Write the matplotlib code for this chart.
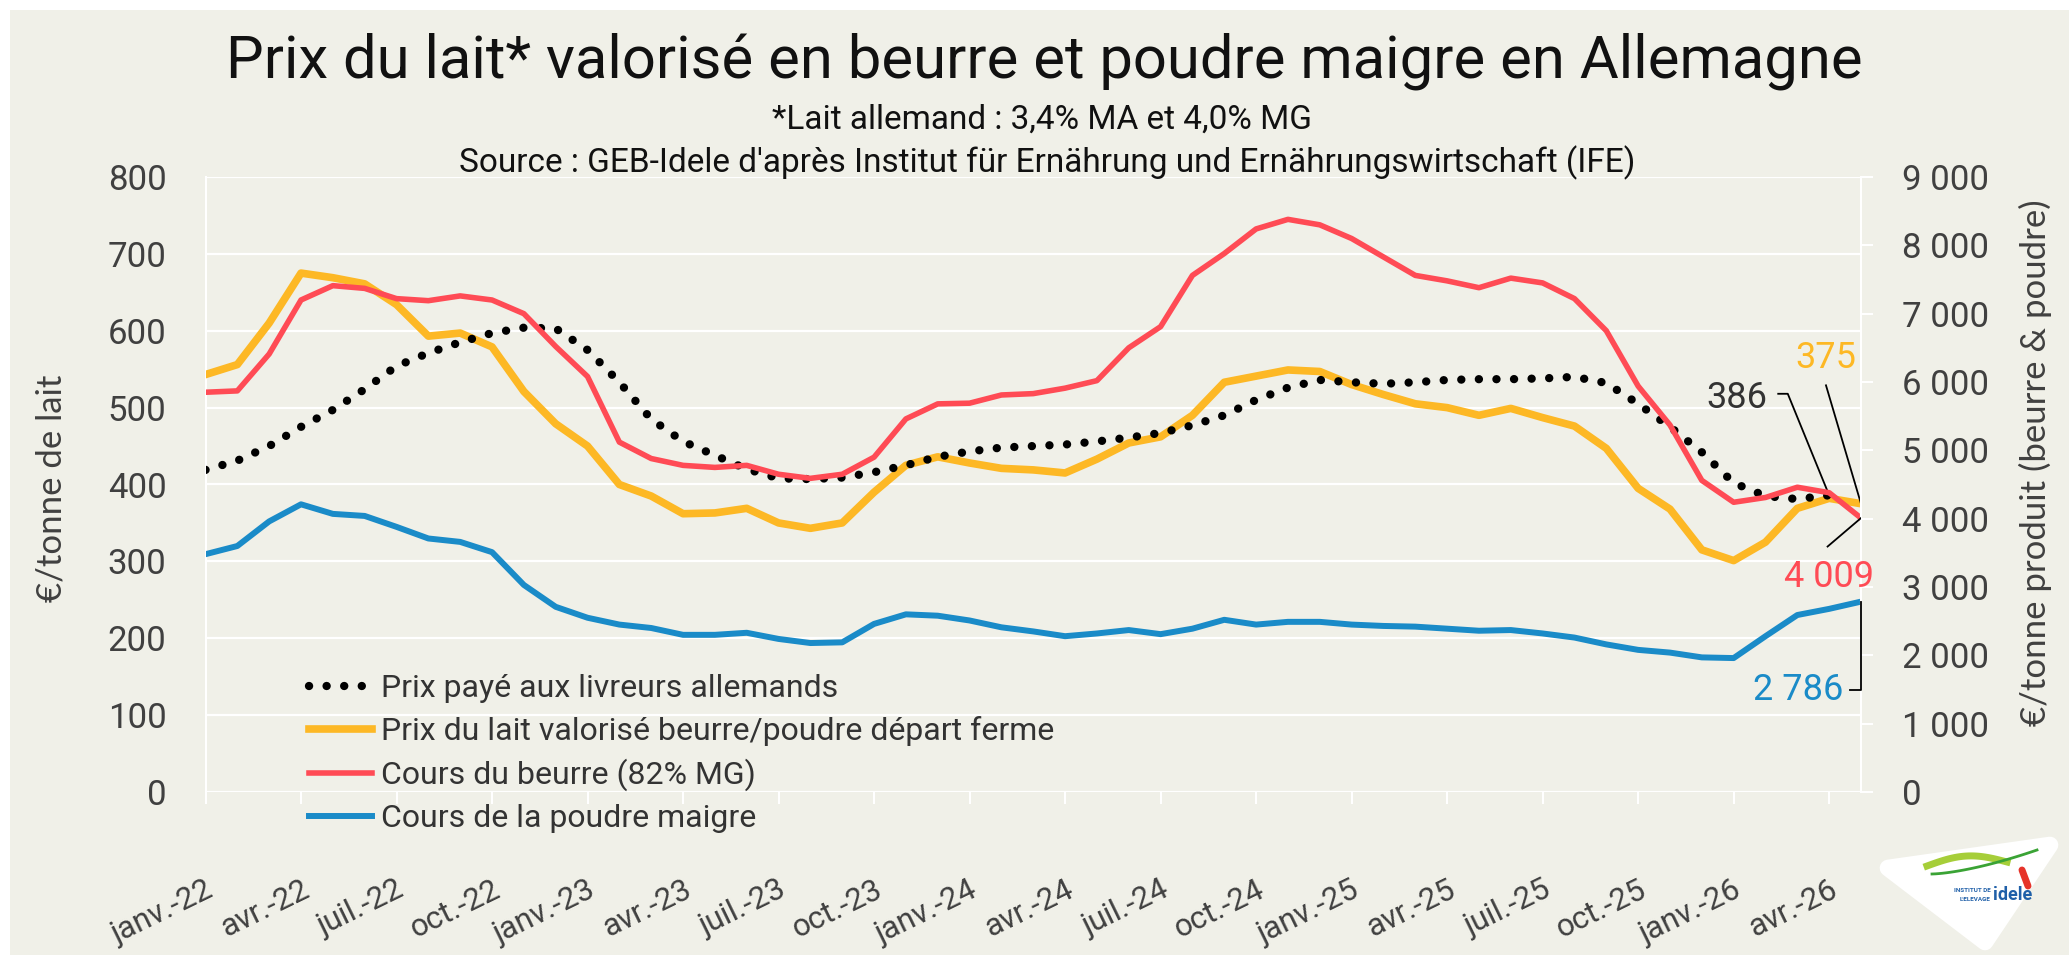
import numpy as np
import matplotlib
matplotlib.use("Agg")
import matplotlib.pyplot as plt
from matplotlib.patches import Rectangle, Polygon
from matplotlib.lines import Line2D

plt.rcParams['font.family'] = ['Roboto', 'DejaVu Sans']

# donnees mensuelles, janv.-22 -> mai-26 (prix payé : jusqu'a avr.-26)
prix_livreurs = [419, 431, 450, 475, 497, 524, 554, 571, 585, 597, 604, 603, 575,
                 533, 485, 456, 438, 420, 408, 407, 409, 416, 425, 436, 443, 448,
                 450, 452, 456, 461, 467, 477, 490, 510, 526, 536, 533, 531, 533,
                 536, 537, 537, 538, 540, 532, 505, 475, 442, 402, 385, 381, 386]
prix_valorise = [543, 556, 610, 675, 669, 661, 634, 593, 597, 579, 521, 479, 450,
                 400, 385, 362, 363, 369, 350, 343, 350, 390, 425, 436, 428, 421,
                 419, 415, 433, 454, 462, 490, 533, 541, 549, 547, 530, 517, 505,
                 500, 490, 499, 487, 476, 447, 395, 368, 315, 301, 325, 369, 382, 375]
cours_beurre = [5850, 5870, 6410, 7200, 7410, 7370, 7220, 7190, 7260, 7200, 7000, 6520, 6080,
                5120, 4880, 4780, 4750, 4780, 4650, 4590, 4650, 4900, 5460, 5680, 5690, 5810,
                5830, 5910, 6020, 6500, 6810, 7560, 7880, 8240, 8380, 8300, 8100, 7830, 7560,
                7480, 7380, 7520, 7450, 7220, 6750, 5940, 5370, 4560, 4240, 4310, 4460, 4380, 4009]
cours_poudre = [3480, 3600, 3960, 4210, 4070, 4040, 3880, 3710, 3660, 3510, 3030, 2710, 2550,
                2450, 2400, 2300, 2300, 2330, 2240, 2180, 2190, 2460, 2600, 2580, 2510, 2410,
                2350, 2280, 2320, 2370, 2310, 2390, 2520, 2450, 2490, 2490, 2450, 2430, 2420,
                2390, 2360, 2370, 2320, 2260, 2160, 2080, 2040, 1970, 1960, 2280, 2590, 2680, 2786]

tick_labels = ['janv.-22', 'avr.-22', 'juil.-22', 'oct.-22', 'janv.-23', 'avr.-23',
               'juil.-23', 'oct.-23', 'janv.-24', 'avr.-24', 'juil.-24', 'oct.-24',
               'janv.-25', 'avr.-25', 'juil.-25', 'oct.-25', 'janv.-26', 'avr.-26']

noms = ['Prix payé aux livreurs allemands',
        'Prix du lait valorisé beurre/poudre départ ferme',
        'Cours du beurre (82% MG)',
        'Cours de la poudre maigre']

BG = '#F0F0E8'
NOIR = '#000000'
JAUNE = '#FDB825'
ROUGE = '#FF4B55'
BLEU = '#1A8BC8'
GRIS = '#404040'

W, H = 2069, 955
fig = plt.figure(figsize=(W / 100, H / 100), dpi=100)
fig.patch.set_facecolor('white')
fig.add_artist(Rectangle((10 / W, 0), 1, 1 - 10 / H, transform=fig.transFigure,
                         facecolor=BG, edgecolor='none', zorder=-10))

def fx(px):
    return px / W

def fy(py):
    return 1 - py / H

def fr(v):
    return f"{v:,}".replace(",", " ")

ax = fig.add_axes([fx(205.5), fy(792), fx(1861) - fx(205.5), fy(177) - fy(792)])
ax2 = ax.twinx()
for a in (ax, ax2):
    a.set_facecolor('none')
    for s in a.spines.values():
        s.set_visible(False)
ax.spines['left'].set_visible(True)
ax.spines['left'].set_color('white')
ax.spines['left'].set_linewidth(1.5)
ax2.spines['right'].set_visible(True)
ax2.spines['right'].set_color('white')
ax2.spines['right'].set_linewidth(1.5)

mois = np.arange(len(prix_valorise))

l1, = ax.plot(mois[:len(prix_livreurs)], prix_livreurs, color=NOIR, lw=6,
              linestyle=(0, (0.01, 2.1)), dash_capstyle='round', zorder=4)
l2, = ax.plot(mois, prix_valorise, color=JAUNE, lw=5.5, solid_joinstyle='round', zorder=3)
l3, = ax2.plot(mois, cours_beurre, color=ROUGE, lw=4, solid_joinstyle='round')
l4, = ax2.plot(mois, cours_poudre, color=BLEU, lw=4.3, solid_joinstyle='round')

ax.set_xlim(0, len(mois) - 1)
ax.set_ylim(0, 800)
ax2.set_ylim(0, 9000)
ax.set_yticks(np.arange(0, 801, 100))
ax2.set_yticks(np.arange(0, 9001, 1000))
ax2.set_yticklabels([fr(v) for v in range(0, 9001, 1000)])
ax.set_xticks(np.arange(0, len(tick_labels) * 3, 3))
ax.set_xticklabels(tick_labels)
ax.grid(axis='y', color='white', lw=1.6)
ax.set_axisbelow(True)

ax.tick_params(axis='y', length=0, pad=28, labelsize=25, labelcolor=GRIS)
ax2.tick_params(axis='y', direction='out', length=8.6, width=1.5, color='white',
                pad=21, labelsize=25, labelcolor=GRIS)
ax.tick_params(axis='x', direction='out', length=8.6, width=1.5, color='white',
               pad=51, labelsize=22.5, labelcolor=GRIS)
plt.setp(ax.get_xticklabels(), rotation=26, ha='right', va='top', rotation_mode='anchor')

# etiquettes des dernieres valeurs
fin = mois[-1]
fin_l = len(prix_livreurs) - 1
ax.text(48.1, 513, f"{prix_livreurs[-1]}", fontsize=26, color='#333333', ha='center',
        va='center')
ax.plot([49.4, 49.7, fin_l], [518, 518, prix_livreurs[-1]], color='black', lw=1.3, zorder=6)
ax.text(50.9, 565, f"{prix_valorise[-1]}", fontsize=26, color=JAUNE, ha='center',
        va='center')
ax.plot([50.9, fin], [529, prix_valorise[-1]], color='black', lw=1.3, zorder=6)
ax2.text(51.0, 3150, fr(cours_beurre[-1]), fontsize=26, color=ROUGE, ha='center',
         va='center')
ax2.plot([50.95, fin], [3592, cours_beurre[-1]], color='black', lw=1.3, zorder=6)
ax2.text(51.45, 1490, fr(cours_poudre[-1]), fontsize=26, color=BLEU, ha='right',
         va='center')
ax2.plot([51.66, fin, fin], [1490, 1490, cours_poudre[-1]], color='black', lw=1.3,
         clip_on=False, zorder=6)

# titres
fig.text(fx(1044), fy(77), "Prix du lait* valorisé en beurre et poudre maigre en Allemagne",
         ha='center', va='baseline', fontsize=43, color='#111111')
fig.text(fx(1042), fy(129), "*Lait allemand : 3,4% MA et 4,0% MG",
         ha='center', va='baseline', fontsize=24, color='#111111')
fig.text(fx(1047), fy(172),
         "Source : GEB-Idele d'après Institut für Ernährung und Ernährungswirtschaft (IFE)",
         ha='center', va='baseline', fontsize=24, color='#111111')
fig.text(fx(52), fy(488), "€/tonne de lait", rotation=90, ha='center', va='center',
         fontsize=25, color=GRIS, family=['Lato', 'DejaVu Sans'])
fig.text(fx(2035), fy(463), "€/tonne produit (beurre & poudre)", rotation=90, ha='center',
         va='center', fontsize=25, color=GRIS, family=['Lato', 'DejaVu Sans'])

# legende
h1 = Line2D([], [], color=NOIR, lw=6, linestyle=(0, (0.01, 2.1)), dash_capstyle='round')
h2 = Line2D([], [], color=JAUNE, lw=5.5)
h3 = Line2D([], [], color=ROUGE, lw=4)
h4 = Line2D([], [], color=BLEU, lw=4.3)
fig.legend([h1, h2, h3, h4], noms, loc='upper left', bbox_to_anchor=(fx(309), fy(674)),
           frameon=False, fontsize=23, handlelength=1.97, handletextpad=0.28,
           labelspacing=0.40, borderpad=0, borderaxespad=0, labelcolor='#333333')

# logo idele (approximatif)
fig.add_artist(Polygon([(fx(1888), fy(868)), (fx(2050), fy(845)), (fx(1985), fy(942))],
                       closed=True, transform=fig.transFigure, facecolor='white',
                       edgecolor='white', lw=12, joinstyle='round', zorder=5))
t = np.linspace(0, 1, 30)
fig.add_artist(Line2D(fx(1927 + 80 * t), fy(866 - 8 * np.sin(np.pi * t) - 4 * t),
                      transform=fig.transFigure, color='#A6CE39', lw=5, zorder=6))
fig.add_artist(Line2D(fx(1932 + 105 * t), fy(874 - 24 * t ** 1.5),
                      transform=fig.transFigure, color='#3AA335', lw=2, zorder=6))
fig.add_artist(Line2D([fx(2022), fx(2028)], [fy(870), fy(886)], transform=fig.transFigure,
                      color='#E63329', lw=5, solid_capstyle='round', zorder=6))
fig.text(fx(1991), fy(890), "INSTITUT DE", fontsize=4.5, color='#1F5FA8', ha='right',
         va='center', weight='bold', zorder=7)
fig.text(fx(1991), fy(899), "L'ELEVAGE", fontsize=4.5, color='#1F5FA8', ha='right',
         va='center', weight='bold', zorder=7)
fig.text(fx(1993), fy(895), "idele", fontsize=13, color='#1F5FA8', ha='left',
         va='center', weight='bold', zorder=7)

fig.savefig("out.png", dpi=100, facecolor=fig.get_facecolor())
